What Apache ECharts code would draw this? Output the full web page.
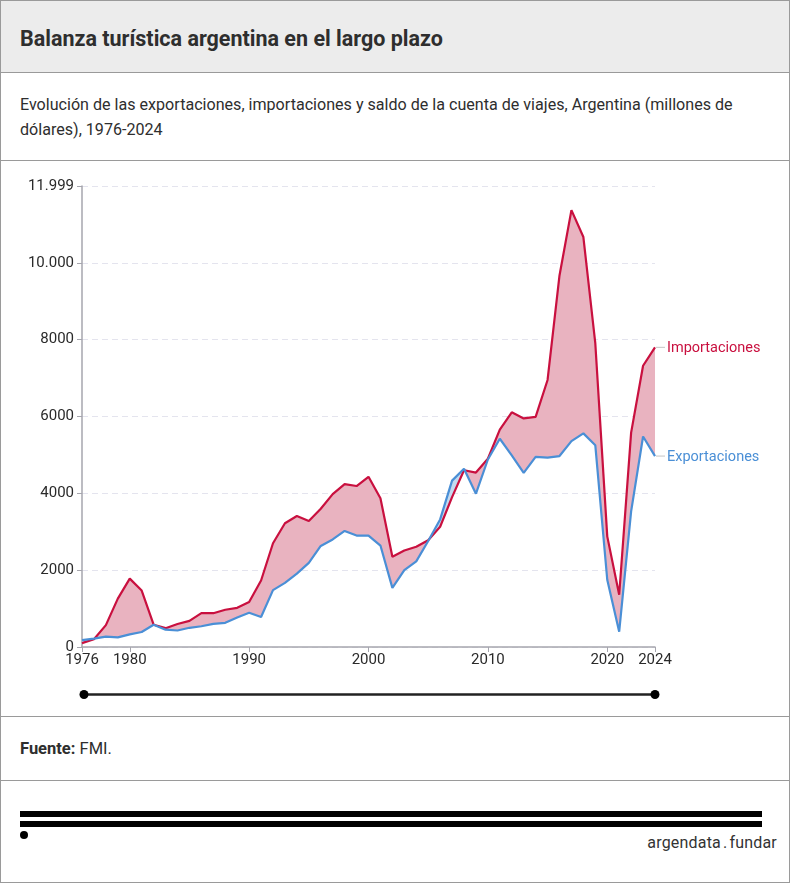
<!DOCTYPE html>
<html>
<head>
<meta charset="utf-8">
<script src="https://cdn.jsdelivr.net/npm/echarts@6/dist/echarts.min.js"></script>
<style>
  html, body { margin: 0; padding: 0; background: #fff; }
  body { width: 790px; height: 883px; position: relative; overflow: hidden; font-family: Roboto, "Noto Sans", sans-serif; color: #333; }
  .abs { position: absolute; }
  .hline { position: absolute; left: 0; width: 790px; height: 1px; background: #9a9a9a; }
  .vline { position: absolute; top: 0; width: 1px; height: 883px; background: #9a9a9a; }
  #header { left: 0; top: 0; width: 790px; height: 72px; background: #ececec; }
  #title { left: 20px; top: 25px; font-size: 21.5px; font-weight: 700; line-height: 28px; color: #2e2e2e; }
  #subtitle { left: 20px; top: 92px; width: 760px; font-size: 16.1px; line-height: 25px; color: #2e2e2e; }
  #chart { left: 0; top: 161px; width: 790px; height: 555px; }
  #fuente { left: 20px; top: 738px; font-size: 16.5px; line-height: 22px; color: #2e2e2e; }
  .bar { position: absolute; left: 20px; width: 742px; height: 6px; background: #000; }
  #dot { left: 20px; top: 831px; width: 8px; height: 8px; border-radius: 50%; background: #000; }
  #brand { right: 13px; top: 833px; font-size: 16px; line-height: 20px; color: #333; letter-spacing: 0.2px; }
</style>
</head>
<body>
<div id="header" class="abs"></div>
<div id="title" class="abs">Balanza turística argentina en el largo plazo</div>
<div id="subtitle" class="abs">Evolución de las exportaciones, importaciones y saldo de la cuenta de viajes, Argentina (millones de dólares), 1976-2024</div>
<div id="chart" class="abs"></div>
<div id="fuente" class="abs"><b>Fuente:</b> FMI.</div>
<div class="bar" style="top:811px"></div>
<div class="bar" style="top:821px"></div>
<div id="dot" class="abs"></div>
<div id="brand" class="abs">argendata<span style="margin:0 2px">.</span>fundar</div>
<div class="hline" style="top:0"></div>
<div class="hline" style="top:72px"></div>
<div class="hline" style="top:160px"></div>
<div class="hline" style="top:716px"></div>
<div class="hline" style="top:780px"></div>
<div class="hline" style="top:882px"></div>
<div class="vline" style="left:0"></div>
<div class="vline" style="left:789px"></div>
<script>
const years = ['1976','1977','1978','1979','1980','1981','1982','1983','1984','1985','1986','1987','1988','1989','1990','1991','1992','1993','1994','1995','1996','1997','1998','1999','2000','2001','2002','2003','2004','2005','2006','2007','2008','2009','2010','2011','2012','2013','2014','2015','2016','2017','2018','2019','2020','2021','2022','2023','2024'];
const importaciones = [100,200,570,1260,1780,1470,580,490,600,680,880,880,970,1020,1170,1730,2700,3220,3410,3280,3600,3980,4240,4190,4430,3870,2350,2510,2610,2780,3130,3900,4600,4540,4900,5660,6110,5950,5990,6950,9670,11370,10670,7900,2880,1360,5580,7320,7800];
const exportaciones = [180,220,270,250,330,390,580,450,430,500,540,600,630,770,890,780,1480,1670,1910,2190,2630,2800,3020,2900,2900,2640,1540,2000,2230,2760,3320,4330,4640,3990,4880,5420,4990,4530,4950,4930,4970,5360,5560,5250,1750,400,3530,5480,4970];
const xTickLabels = ['1976','1980','1990','2000','2010','2020','2024'];
const yMax = 11999;

const base = importaciones.map((v, i) => Math.min(v, exportaciones[i]));
const deficit = importaciones.map((v, i) => Math.max(v - exportaciones[i], 0));
const superavit = importaciones.map((v, i) => Math.max(exportaciones[i] - v, 0));

const RED = '#c9103f';
const BLUE = '#4a8fd6';
const showYear = (idx, val) => xTickLabels.indexOf(val) >= 0;
const fmt = v => v >= 10000 ? String(v).replace(/\B(?=(\d{3})+(?!\d))/g, '.') : String(v);

const chart = echarts.init(document.getElementById('chart'));
chart.setOption({
  animation: false,
  textStyle: { fontFamily: 'Roboto' },
  grid: { left: 82, right: 135, top: 25, bottom: 69, containLabel: false },
  xAxis: {
    type: 'category', data: years, boundaryGap: false,
    axisLine: { lineStyle: { color: '#a6a6ae', width: 1.5 } },
    axisTick: { show: true, interval: showYear, length: 5, lineStyle: { color: '#a6a6ae' } },
    axisLabel: { interval: showYear, color: '#2a2a2a', fontSize: 15, margin: 6 },
    splitLine: { show: false }
  },
  yAxis: {
    type: 'value', min: 0, max: yMax, interval: 2000,
    axisLine: { show: true, lineStyle: { color: '#a6a6ae', width: 1.5 } },
    axisTick: { show: true, length: 5, lineStyle: { color: '#a6a6ae' } },
    axisLabel: { color: '#2a2a2a', fontSize: 15, margin: 8, formatter: fmt, showMaxLabel: true },
    splitLine: { show: true, lineStyle: { color: '#e4e4ee', type: [6, 4], width: 1 } }
  },
  series: [
    { type: 'line', data: base, stack: 'b', symbol: 'none', lineStyle: { width: 0 }, areaStyle: { opacity: 0 }, silent: true, z: 1 },
    { type: 'line', data: deficit, stack: 'b', symbol: 'none', lineStyle: { width: 0 }, areaStyle: { color: '#e9b3c0', opacity: 1 }, silent: true, z: 1 },
    { type: 'line', data: superavit, stack: 'b', symbol: 'none', lineStyle: { width: 0 }, areaStyle: { color: '#c4daef', opacity: 1 }, silent: true, z: 1 },
    { name: 'Importaciones', type: 'line', data: importaciones, symbol: 'none', lineStyle: { color: RED, width: 2.2 }, z: 3,
      endLabel: { show: true, distance: 1, formatter: '{l|}{t|Importaciones}', color: RED,
        rich: { l: { width: 9, height: 1, backgroundColor: '#c4c4c4' }, t: { fontSize: 14.5, color: RED, padding: [2, 0, 0, 2] } } } },
    { name: 'Exportaciones', type: 'line', data: exportaciones, symbol: 'none', lineStyle: { color: BLUE, width: 2.2 }, z: 3,
      endLabel: { show: true, distance: 1, formatter: '{l|}{t|Exportaciones}', color: BLUE,
        rich: { l: { width: 9, height: 1, backgroundColor: '#c4c4c4' }, t: { fontSize: 14.5, color: BLUE, padding: [2, 0, 0, 2] } } } }
  ],
  graphic: [
    { type: 'line', shape: { x1: 84, y1: 533.5, x2: 655, y2: 533.5 }, style: { stroke: '#222', lineWidth: 2.5 } },
    { type: 'circle', shape: { cx: 84, cy: 533.5, r: 4.5 }, style: { fill: '#000' } },
    { type: 'circle', shape: { cx: 655, cy: 533.5, r: 4.5 }, style: { fill: '#000' } }
  ]
});
</script>
</body>
</html>
